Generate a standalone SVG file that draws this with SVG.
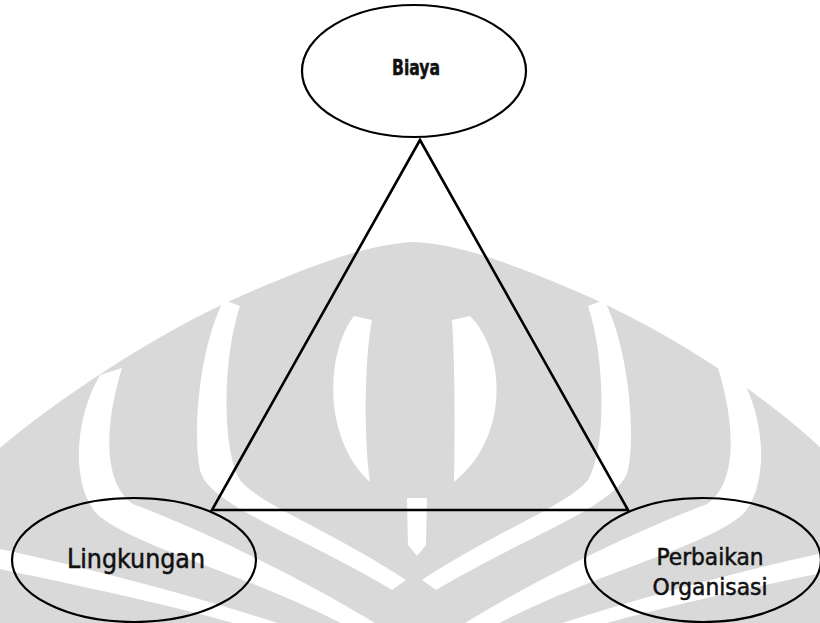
<svg xmlns="http://www.w3.org/2000/svg" width="820" height="623" viewBox="0 0 820 623">
<style>
.wm{fill:#d9d9d9}
.band{fill:#ffffff}
.edge{fill:none;stroke:#000;stroke-width:2.6;stroke-linejoin:miter}
.node{fill:none;stroke:#000;stroke-width:2.2}
.lbl{font-family:'DejaVu Sans Condensed','DejaVu Sans',sans-serif;font-stretch:condensed;fill:#111;stroke:#111;stroke-width:0.5;text-anchor:middle}
</style>
<rect width="820" height="623" fill="#ffffff"/>
<g id="watermark">
<path class="wm" d="M-5,452 C50,405 150,335 250,292 C320,262 370,244 414,242 C458,244 508,262 578,292 C678,335 778,405 828,455 L828,630 L-5,630 Z"/>
<path class="band" d="M354,316 C326,352 322,438 370,482 C364,440 364,362 372,320 Z"/>
<path class="band" d="M470,316 C506,352 510,438 454,482 C455,440 455,362 452,320 Z"/>
<path class="band" d="M407,498 L427,498 L426,545 L417,556 L408,545 Z"/>
<path class="band" d="M224,300 C200,345 192,430 200,470 C208,505 300,535 392,590 L406,580 C330,530 260,505 240,480 C222,450 222,360 240,306 Z"/>
<path class="band" d="M604,300 C628,345 636,430 628,470 C620,505 528,535 436,590 L422,580 C498,530 568,505 588,480 C606,450 606,360 588,306 Z"/>
<path class="band" d="M100,375 C76,415 70,480 95,512 C130,548 260,575 372,640 L402,640 C310,580 190,525 135,505 C108,490 100,440 122,368 Z"/>
<path class="band" d="M740,375 C764,415 770,480 745,512 C710,548 580,575 468,640 L438,640 C530,580 650,525 705,505 C732,490 740,440 718,368 Z"/>
<path class="band" d="M-5,568 C60,582 200,610 290,640 L328,640 C220,602 90,568 -5,548 Z"/>
<path class="band" d="M845,568 C780,582 640,610 550,640 L512,640 C620,602 750,568 845,548 Z"/>
</g>
<g id="connectors">
<polygon class="edge" points="420,140 212,510 628,510"/>
</g>
<g id="node-biaya">
<ellipse class="node" cx="414" cy="71" rx="112" ry="66"/>
<text class="lbl" x="416" y="75" font-size="21" font-weight="bold" textLength="48" lengthAdjust="spacingAndGlyphs">Biaya</text>
</g>
<g id="node-lingkungan">
<ellipse class="node" cx="134" cy="560" rx="122" ry="62"/>
<text class="lbl" x="136" y="568" font-size="26" textLength="138" lengthAdjust="spacingAndGlyphs">Lingkungan</text>
</g>
<g id="node-perbaikan">
<ellipse class="node" cx="703" cy="560" rx="118" ry="62"/>
<text class="lbl" x="710" y="565" font-size="23" textLength="107" lengthAdjust="spacingAndGlyphs">Perbaikan</text>
<text class="lbl" x="710" y="595" font-size="23" textLength="115" lengthAdjust="spacingAndGlyphs">Organisasi</text>
</g>
</svg>
